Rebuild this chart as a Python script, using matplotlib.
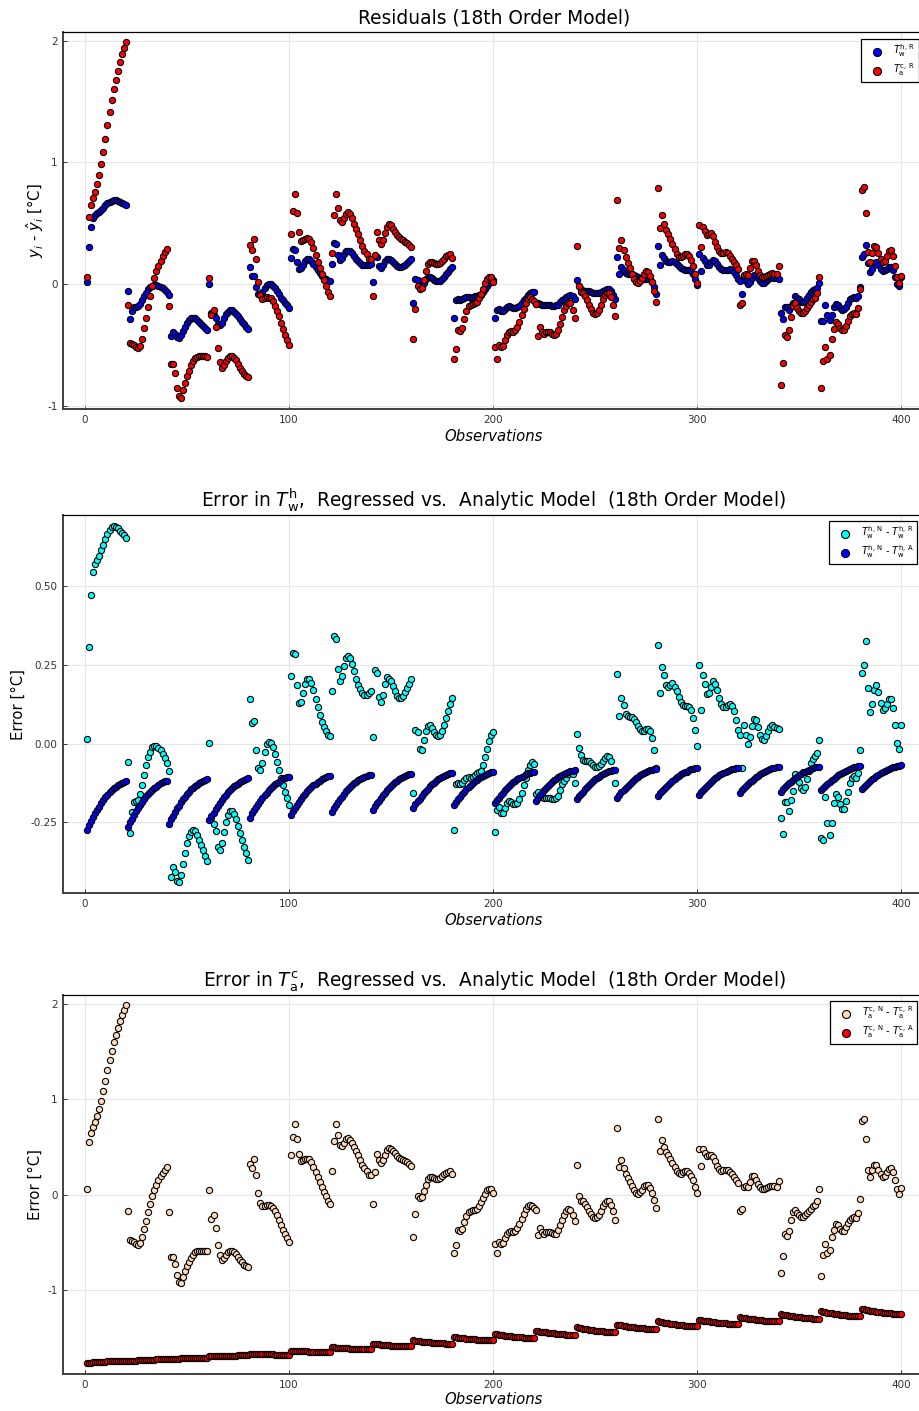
"""
Residuals and regression errors of the 18th order model, three stacked scatter panels.
"""
import matplotlib
matplotlib.use("Agg")
import matplotlib.pyplot as plt

plt.rcParams["font.family"] = ["DejaVu Sans"]
plt.rcParams["axes.unicode_minus"] = False
plt.rcParams["mathtext.fontset"] = "dejavusans"

obs = list(range(1, 401))

# T_w^h,N - T_w^h,R  (same values are the T_w^h residuals)
err_tw_r = [
    0.015, 0.306, 0.470, 0.545, 0.571, 0.582, 0.596, 0.613, 0.630, 0.649, 0.665, 0.678, 0.687, 0.690, 0.689, 0.685, 0.675, 0.668, 0.661, 0.651,
    -0.058, -0.284, -0.217, -0.186, -0.184, -0.179, -0.161, -0.132, -0.100, -0.069, -0.043, -0.026, -0.012, -0.007, -0.008, -0.014, -0.022, -0.033, -0.046, -0.061,
    -0.088, -0.423, -0.391, -0.409, -0.435, -0.439, -0.419, -0.384, -0.348, -0.317, -0.293, -0.280, -0.274, -0.278, -0.290, -0.306, -0.323, -0.339, -0.357, -0.374,
    0.003, -0.235, -0.255, -0.277, -0.328, -0.338, -0.315, -0.280, -0.248, -0.227, -0.214, -0.213, -0.225, -0.241, -0.262, -0.285, -0.306, -0.328, -0.349, -0.370,
    0.141, 0.064, 0.070, -0.019, -0.079, -0.085, -0.061, -0.028, -0.003, 0.004, 0.002, -0.011, -0.033, -0.058, -0.083, -0.109, -0.132, -0.154, -0.174, -0.195,
    0.214, 0.289, 0.284, 0.185, 0.129, 0.131, 0.160, 0.189, 0.204, 0.204, 0.191, 0.169, 0.142, 0.115, 0.091, 0.069, 0.053, 0.039, 0.028, 0.023,
    0.168, 0.342, 0.331, 0.237, 0.200, 0.214, 0.247, 0.271, 0.277, 0.271, 0.253, 0.229, 0.206, 0.187, 0.172, 0.160, 0.155, 0.155, 0.159, 0.166,
    0.020, 0.234, 0.224, 0.148, 0.131, 0.155, 0.188, 0.210, 0.206, 0.197, 0.184, 0.166, 0.152, 0.145, 0.145, 0.151, 0.162, 0.176, 0.189, 0.204,
    -0.156, 0.042, 0.037, -0.016, -0.019, 0.012, 0.041, 0.056, 0.058, 0.050, 0.037, 0.028, 0.024, 0.028, 0.041, 0.060, 0.082, 0.104, 0.127, 0.145,
    -0.275, -0.128, -0.125, -0.130, -0.125, -0.115, -0.108, -0.105, -0.110, -0.105, -0.100, -0.095, -0.090, -0.088, -0.067, -0.042, -0.016, 0.007, 0.028, 0.038,
    -0.281, -0.211, -0.200, -0.222, -0.222, -0.204, -0.189, -0.182, -0.186, -0.191, -0.193, -0.188, -0.175, -0.156, -0.132, -0.109, -0.085, -0.069, -0.060, -0.064,
    -0.161, -0.153, -0.165, -0.170, -0.172, -0.172, -0.174, -0.174, -0.176, -0.176, -0.172, -0.168, -0.148, -0.128, -0.118, -0.108, -0.098, -0.090, -0.098, -0.124,
    0.031, -0.015, -0.035, -0.053, -0.054, -0.056, -0.056, -0.061, -0.069, -0.074, -0.075, -0.072, -0.064, -0.056, -0.045, -0.040, -0.042, -0.054, -0.085, -0.124,
    0.220, 0.086, 0.145, 0.121, 0.094, 0.086, 0.085, 0.083, 0.079, 0.069, 0.056, 0.046, 0.041, 0.041, 0.045, 0.046, 0.039, 0.016, -0.021, -0.077,
    0.313, 0.160, 0.244, 0.217, 0.187, 0.180, 0.185, 0.192, 0.181, 0.168, 0.148, 0.132, 0.123, 0.119, 0.118, 0.115, 0.108, 0.081, 0.043, -0.008,
    0.248, 0.107, 0.216, 0.189, 0.157, 0.160, 0.181, 0.197, 0.189, 0.169, 0.145, 0.126, 0.116, 0.115, 0.121, 0.126, 0.120, 0.102, 0.074, 0.042,
    0.028, -0.077, 0.060, 0.028, -0.001, 0.020, 0.055, 0.079, 0.074, 0.053, 0.026, 0.013, 0.011, 0.024, 0.039, 0.054, 0.058, 0.054, 0.048, 0.046,
    -0.235, -0.288, -0.186, -0.185, -0.214, -0.180, -0.150, -0.096, -0.109, -0.122, -0.142, -0.149, -0.138, -0.114, -0.088, -0.061, -0.049, -0.040, -0.030, 0.011,
    -0.300, -0.305, -0.170, -0.251, -0.290, -0.251, -0.190, -0.161, -0.169, -0.192, -0.208, -0.207, -0.184, -0.153, -0.124, -0.109, -0.103, -0.109, -0.093, -0.019,
    0.224, 0.248, 0.326, 0.176, 0.100, 0.126, 0.171, 0.185, 0.162, 0.128, 0.107, 0.113, 0.126, 0.142, 0.142, 0.113, 0.058, 0.002, -0.017, 0.060,
]

# T_w^h,N - T_w^h,A
err_tw_a = [
    -0.274, -0.258, -0.246, -0.234, -0.221, -0.210, -0.200, -0.189, -0.179, -0.170, -0.162, -0.155, -0.148, -0.142, -0.138, -0.131, -0.127, -0.124, -0.121, -0.119,
    -0.265, -0.250, -0.239, -0.227, -0.215, -0.205, -0.195, -0.185, -0.176, -0.167, -0.160, -0.153, -0.147, -0.141, -0.137, -0.131, -0.126, -0.123, -0.120, -0.119,
    -0.254, -0.240, -0.229, -0.218, -0.206, -0.197, -0.187, -0.177, -0.169, -0.160, -0.153, -0.146, -0.141, -0.135, -0.131, -0.125, -0.121, -0.118, -0.115, -0.114,
    -0.244, -0.231, -0.220, -0.209, -0.199, -0.189, -0.180, -0.171, -0.163, -0.155, -0.148, -0.142, -0.136, -0.131, -0.127, -0.122, -0.118, -0.115, -0.112, -0.111,
    -0.235, -0.222, -0.212, -0.201, -0.191, -0.182, -0.173, -0.163, -0.156, -0.148, -0.141, -0.135, -0.130, -0.124, -0.121, -0.115, -0.111, -0.109, -0.106, -0.105,
    -0.227, -0.215, -0.205, -0.195, -0.185, -0.176, -0.167, -0.159, -0.151, -0.144, -0.138, -0.132, -0.127, -0.122, -0.118, -0.113, -0.109, -0.107, -0.104, -0.103,
    -0.217, -0.205, -0.196, -0.186, -0.177, -0.169, -0.160, -0.152, -0.145, -0.138, -0.132, -0.126, -0.121, -0.117, -0.113, -0.108, -0.105, -0.103, -0.100, -0.099,
    -0.210, -0.199, -0.190, -0.181, -0.172, -0.164, -0.156, -0.148, -0.141, -0.134, -0.129, -0.123, -0.118, -0.114, -0.111, -0.106, -0.103, -0.100, -0.098, -0.097,
    -0.204, -0.193, -0.184, -0.175, -0.166, -0.158, -0.151, -0.143, -0.136, -0.130, -0.124, -0.119, -0.114, -0.110, -0.106, -0.102, -0.099, -0.096, -0.094, -0.093,
    -0.196, -0.185, -0.177, -0.169, -0.160, -0.153, -0.146, -0.138, -0.132, -0.126, -0.120, -0.115, -0.111, -0.107, -0.104, -0.099, -0.096, -0.094, -0.092, -0.091,
    -0.190, -0.180, -0.172, -0.164, -0.156, -0.149, -0.142, -0.135, -0.129, -0.123, -0.118, -0.113, -0.109, -0.105, -0.102, -0.098, -0.095, -0.093, -0.091, -0.090,
    -0.182, -0.172, -0.165, -0.157, -0.149, -0.142, -0.135, -0.129, -0.123, -0.117, -0.112, -0.107, -0.103, -0.100, -0.097, -0.093, -0.090, -0.088, -0.086, -0.085,
    -0.177, -0.168, -0.160, -0.153, -0.145, -0.138, -0.132, -0.125, -0.120, -0.114, -0.109, -0.105, -0.101, -0.097, -0.094, -0.091, -0.088, -0.086, -0.084, -0.083,
    -0.172, -0.163, -0.155, -0.148, -0.141, -0.134, -0.128, -0.121, -0.116, -0.110, -0.106, -0.101, -0.097, -0.094, -0.091, -0.087, -0.085, -0.083, -0.081, -0.080,
    -0.167, -0.158, -0.151, -0.144, -0.137, -0.131, -0.124, -0.118, -0.113, -0.107, -0.103, -0.098, -0.095, -0.091, -0.089, -0.085, -0.082, -0.081, -0.079, -0.078,
    -0.164, -0.155, -0.148, -0.141, -0.134, -0.128, -0.122, -0.116, -0.111, -0.106, -0.101, -0.097, -0.094, -0.090, -0.087, -0.084, -0.081, -0.080, -0.078, -0.077,
    -0.157, -0.149, -0.142, -0.136, -0.129, -0.123, -0.118, -0.112, -0.107, -0.102, -0.098, -0.094, -0.091, -0.087, -0.085, -0.082, -0.079, -0.077, -0.076, -0.075,
    -0.153, -0.145, -0.139, -0.132, -0.126, -0.121, -0.115, -0.110, -0.105, -0.100, -0.096, -0.092, -0.089, -0.086, -0.083, -0.080, -0.078, -0.076, -0.075, -0.074,
    -0.149, -0.141, -0.135, -0.129, -0.122, -0.117, -0.112, -0.106, -0.101, -0.097, -0.093, -0.089, -0.086, -0.083, -0.080, -0.077, -0.075, -0.073, -0.072, -0.071,
    -0.145, -0.137, -0.131, -0.125, -0.119, -0.114, -0.109, -0.103, -0.099, -0.094, -0.090, -0.086, -0.083, -0.080, -0.078, -0.075, -0.073, -0.071, -0.070, -0.069,
]

# T_a^c,N - T_a^c,R  (same values are the T_a^c residuals)
err_ta_r = [
    0.060, 0.551, 0.649, 0.709, 0.761, 0.821, 0.895, 0.986, 1.088, 1.196, 1.305, 1.411, 1.509, 1.600, 1.681, 1.754, 1.825, 1.888, 1.944, 1.989,
    -0.168, -0.481, -0.491, -0.498, -0.519, -0.526, -0.509, -0.446, -0.361, -0.274, -0.186, -0.098, -0.018, 0.053, 0.105, 0.151, 0.193, 0.228, 0.263, 0.291,
    -0.182, -0.656, -0.656, -0.730, -0.849, -0.919, -0.933, -0.870, -0.807, -0.754, -0.709, -0.667, -0.632, -0.607, -0.596, -0.589, -0.589, -0.589, -0.589, -0.596,
    0.053, -0.256, -0.211, -0.351, -0.526, -0.639, -0.684, -0.667, -0.632, -0.604, -0.589, -0.589, -0.604, -0.625, -0.653, -0.684, -0.712, -0.737, -0.750, -0.765,
    0.326, 0.281, 0.375, 0.207, 0.018, -0.091, -0.123, -0.116, -0.105, -0.112, -0.116, -0.140, -0.175, -0.218, -0.263, -0.316, -0.368, -0.414, -0.456, -0.498,
    0.414, 0.604, 0.744, 0.586, 0.428, 0.358, 0.361, 0.375, 0.379, 0.372, 0.344, 0.295, 0.239, 0.182, 0.133, 0.081, 0.032, -0.018, -0.063, -0.098,
    0.253, 0.568, 0.744, 0.625, 0.526, 0.509, 0.540, 0.579, 0.593, 0.575, 0.540, 0.498, 0.456, 0.411, 0.361, 0.316, 0.277, 0.250, 0.210, 0.204,
    -0.098, 0.239, 0.428, 0.365, 0.330, 0.365, 0.421, 0.470, 0.491, 0.484, 0.456, 0.432, 0.407, 0.386, 0.372, 0.361, 0.351, 0.340, 0.326, 0.305,
    -0.446, -0.200, -0.014, -0.035, -0.028, 0.035, 0.105, 0.165, 0.182, 0.182, 0.175, 0.165, 0.168, 0.175, 0.193, 0.211, 0.228, 0.239, 0.246, 0.218,
    -0.618, -0.530, -0.375, -0.386, -0.358, -0.288, -0.221, -0.182, -0.168, -0.165, -0.158, -0.147, -0.116, -0.077, -0.035, 0.007, 0.046, 0.063, 0.060, 0.021,
    -0.516, -0.618, -0.498, -0.516, -0.509, -0.456, -0.414, -0.393, -0.386, -0.389, -0.379, -0.351, -0.309, -0.253, -0.200, -0.151, -0.119, -0.105, -0.120, -0.140,
    -0.165, -0.428, -0.351, -0.396, -0.411, -0.393, -0.393, -0.396, -0.407, -0.414, -0.410, -0.375, -0.323, -0.270, -0.211, -0.175, -0.154, -0.158, -0.211, -0.281,
    0.312, -0.011, -0.063, -0.070, -0.098, -0.130, -0.168, -0.204, -0.235, -0.246, -0.239, -0.211, -0.168, -0.123, -0.088, -0.070, -0.070, -0.105, -0.168, -0.263,
    0.695, 0.295, 0.361, 0.281, 0.221, 0.175, 0.130, 0.088, 0.046, 0.018, 0.011, 0.025, 0.053, 0.088, 0.105, 0.098, 0.070, 0.018, -0.053, -0.144,
    0.793, 0.463, 0.572, 0.498, 0.449, 0.411, 0.375, 0.333, 0.288, 0.246, 0.225, 0.221, 0.235, 0.246, 0.246, 0.228, 0.200, 0.151, 0.081, 0.014,
    0.484, 0.305, 0.474, 0.439, 0.404, 0.411, 0.421, 0.393, 0.351, 0.305, 0.270, 0.253, 0.256, 0.263, 0.256, 0.235, 0.211, 0.182, 0.154, 0.126,
    -0.168, -0.151, 0.077, 0.088, 0.077, 0.133, 0.193, 0.193, 0.158, 0.112, 0.077, 0.060, 0.060, 0.070, 0.077, 0.088, 0.091, 0.088, 0.081, 0.147,
    -0.825, -0.649, -0.414, -0.432, -0.379, -0.270, -0.182, -0.158, -0.193, -0.218, -0.239, -0.239, -0.218, -0.193, -0.168, -0.147, -0.123, -0.112, -0.070, 0.060,
    -0.853, -0.632, -0.516, -0.614, -0.579, -0.449, -0.368, -0.309, -0.323, -0.358, -0.379, -0.379, -0.340, -0.298, -0.263, -0.246, -0.239, -0.246, -0.193, -0.042,
    0.772, 0.796, 0.589, 0.263, 0.182, 0.256, 0.316, 0.309, 0.256, 0.211, 0.186, 0.193, 0.235, 0.274, 0.281, 0.235, 0.151, 0.063, 0.007, 0.070,
]

# T_a^c,N - T_a^c,A
err_ta_a = [
    -1.772, -1.769, -1.767, -1.765, -1.763, -1.762, -1.760, -1.758, -1.757, -1.755, -1.754, -1.753, -1.752, -1.751, -1.750, -1.749, -1.748, -1.748, -1.747, -1.747,
    -1.754, -1.752, -1.750, -1.748, -1.746, -1.744, -1.742, -1.741, -1.739, -1.738, -1.737, -1.736, -1.735, -1.734, -1.733, -1.732, -1.731, -1.731, -1.730, -1.730,
    -1.730, -1.729, -1.727, -1.726, -1.725, -1.724, -1.723, -1.722, -1.721, -1.721, -1.720, -1.719, -1.719, -1.718, -1.718, -1.717, -1.717, -1.716, -1.716, -1.716,
    -1.702, -1.701, -1.700, -1.699, -1.698, -1.697, -1.696, -1.695, -1.695, -1.694, -1.693, -1.693, -1.692, -1.692, -1.691, -1.691, -1.691, -1.690, -1.690, -1.690,
    -1.672, -1.673, -1.674, -1.675, -1.676, -1.677, -1.678, -1.679, -1.679, -1.680, -1.681, -1.681, -1.682, -1.682, -1.683, -1.683, -1.683, -1.684, -1.684, -1.684,
    -1.639, -1.641, -1.642, -1.643, -1.645, -1.646, -1.647, -1.648, -1.649, -1.650, -1.651, -1.652, -1.653, -1.653, -1.654, -1.655, -1.655, -1.655, -1.656, -1.656,
    -1.604, -1.606, -1.608, -1.609, -1.611, -1.613, -1.614, -1.616, -1.617, -1.618, -1.619, -1.620, -1.621, -1.622, -1.622, -1.623, -1.624, -1.624, -1.625, -1.625,
    -1.568, -1.571, -1.573, -1.575, -1.578, -1.579, -1.581, -1.583, -1.585, -1.587, -1.588, -1.590, -1.591, -1.592, -1.593, -1.594, -1.595, -1.595, -1.596, -1.596,
    -1.533, -1.537, -1.539, -1.542, -1.545, -1.547, -1.550, -1.552, -1.554, -1.556, -1.558, -1.560, -1.561, -1.563, -1.564, -1.565, -1.566, -1.567, -1.568, -1.568,
    -1.498, -1.502, -1.504, -1.507, -1.510, -1.512, -1.515, -1.517, -1.519, -1.521, -1.523, -1.525, -1.526, -1.528, -1.529, -1.530, -1.531, -1.532, -1.533, -1.533,
    -1.463, -1.468, -1.471, -1.475, -1.479, -1.482, -1.485, -1.488, -1.491, -1.494, -1.496, -1.498, -1.500, -1.502, -1.503, -1.505, -1.507, -1.508, -1.509, -1.509,
    -1.432, -1.436, -1.440, -1.443, -1.446, -1.449, -1.452, -1.455, -1.458, -1.460, -1.462, -1.464, -1.466, -1.468, -1.469, -1.471, -1.472, -1.473, -1.474, -1.474,
    -1.397, -1.402, -1.406, -1.410, -1.414, -1.417, -1.421, -1.424, -1.427, -1.430, -1.432, -1.435, -1.437, -1.439, -1.440, -1.442, -1.444, -1.445, -1.446, -1.446,
    -1.368, -1.373, -1.376, -1.380, -1.384, -1.387, -1.390, -1.393, -1.396, -1.399, -1.401, -1.403, -1.405, -1.407, -1.408, -1.410, -1.412, -1.413, -1.414, -1.414,
    -1.333, -1.338, -1.343, -1.347, -1.351, -1.355, -1.358, -1.362, -1.365, -1.369, -1.371, -1.374, -1.376, -1.378, -1.380, -1.382, -1.383, -1.384, -1.385, -1.386,
    -1.316, -1.321, -1.324, -1.328, -1.331, -1.334, -1.338, -1.341, -1.343, -1.346, -1.348, -1.351, -1.352, -1.354, -1.356, -1.357, -1.359, -1.360, -1.361, -1.361,
    -1.288, -1.293, -1.296, -1.300, -1.303, -1.306, -1.310, -1.313, -1.315, -1.318, -1.320, -1.323, -1.324, -1.326, -1.328, -1.329, -1.331, -1.332, -1.333, -1.333,
    -1.256, -1.261, -1.265, -1.269, -1.273, -1.276, -1.280, -1.283, -1.286, -1.289, -1.291, -1.294, -1.296, -1.298, -1.299, -1.301, -1.303, -1.304, -1.305, -1.305,
    -1.228, -1.233, -1.238, -1.242, -1.246, -1.250, -1.253, -1.257, -1.260, -1.264, -1.266, -1.269, -1.271, -1.273, -1.275, -1.277, -1.278, -1.279, -1.280, -1.281,
    -1.203, -1.208, -1.213, -1.217, -1.221, -1.225, -1.228, -1.232, -1.235, -1.239, -1.241, -1.244, -1.246, -1.248, -1.250, -1.252, -1.253, -1.254, -1.255, -1.256,
]

x_ticks = [0, 100, 200, 300, 400]
top_yticks = [-1, 0, 1, 2]
top_yticklabels = ["-1", "0", "1", "2"]
mid_yticks = [-0.25, 0.0, 0.25, 0.50]
mid_yticklabels = ["-0.25", "0.00", "0.25", "0.50"]
bot_yticks = [-1, 0, 1, 2]
bot_yticklabels = ["-1", "0", "1", "2"]

W, H = 919, 1411
MARKER_S = 20
TITLE_SIZE = 13.4
LABEL_SIZE = 10.7


def px_axes(fig, top, bottom, left=63, right=925):
    return fig.add_axes([left / W, (H - bottom) / H, (right - left) / W, (bottom - top) / H])


def style_axes(ax, ylim, yticks, yticklabels, ylabel, ylabel_x, xlabel_y):
    ax.set_xlim(-10.8, 411.8)
    ax.set_ylim(*ylim)
    ax.set_xticks(x_ticks)
    ax.set_yticks(yticks)
    ax.set_yticklabels(yticklabels)
    ax.grid(True, color="#e6e6e6", linewidth=0.8)
    ax.set_axisbelow(True)
    ax.tick_params(direction="in", length=3, width=0.7, labelsize=7.5, pad=4, colors="#333333")
    ax.spines["top"].set_linewidth(0.9)
    ax.spines["top"].set_color("black")
    for side in ("left", "bottom"):
        ax.spines[side].set_linewidth(1.4)
        ax.spines[side].set_color("#404040")
    ax.set_xlabel("Observations", fontsize=LABEL_SIZE, style="italic")
    ax.xaxis.set_label_coords(0.5, xlabel_y)
    ax.xaxis.label.set_va("center")
    ax.set_ylabel(ylabel, fontsize=LABEL_SIZE)
    ax.yaxis.set_label_coords(ylabel_x, 0.5)
    ax.yaxis.label.set_va("center")


def add_legend(ax, fig, left_px, top_px):
    leg = ax.legend(loc="upper left", bbox_to_anchor=(left_px / W, (H - top_px) / H),
                    bbox_transform=fig.transFigure, fontsize=7, frameon=True,
                    fancybox=False, framealpha=1, edgecolor="black",
                    handletextpad=0.45, borderpad=0.35, labelspacing=0.25,
                    handlelength=2.5, markerscale=1.3, borderaxespad=0)
    leg.get_frame().set_linewidth(0.9)


def main():
    fig = plt.figure(figsize=(W / 100, H / 100), dpi=100)

    # residuals
    ax1 = px_axes(fig, 31.7, 409.3)
    ax1.scatter(obs, err_tw_r, s=MARKER_S, c="#0000ff", edgecolors="black", linewidths=0.8,
                label=r"$T_\mathrm{w}^\mathrm{h,\,R}$", zorder=3)
    ax1.scatter(obs, err_ta_r, s=MARKER_S, c="#ff0000", edgecolors="black", linewidths=0.8,
                label=r"$T_\mathrm{a}^\mathrm{c,\,R}$", zorder=3)
    style_axes(ax1, (-1.027, 2.074), top_yticks, top_yticklabels,
               r"$y_i$ - $\hat{y}_i$ [°C]", -0.0325, -0.073)
    ax1.set_title("Residuals (18th Order Model)", fontsize=TITLE_SIZE, pad=6)
    add_legend(ax1, fig, 861, 39)

    # water side error
    ax2 = px_axes(fig, 515, 893.3)
    ax2.scatter(obs, err_tw_r, s=MARKER_S, c="#00ffff", edgecolors="black", linewidths=0.8,
                label=r"$T_\mathrm{w}^\mathrm{h,\,N}$ - $T_\mathrm{w}^\mathrm{h,\,R}$", zorder=3)
    ax2.scatter(obs, err_tw_a, s=MARKER_S, c="#0000ff", edgecolors="black", linewidths=0.8,
                label=r"$T_\mathrm{w}^\mathrm{h,\,N}$ - $T_\mathrm{w}^\mathrm{h,\,A}$", zorder=3)
    style_axes(ax2, (-0.4756, 0.7256), mid_yticks, mid_yticklabels,
               "Error [°C]", -0.052, -0.0706)
    ax2.set_title(r"Error in $T_\mathrm{w}^\mathrm{h}$,  Regressed vs.  Analytic Model  (18th Order Model)",
                  fontsize=TITLE_SIZE, pad=6)
    add_legend(ax2, fig, 829, 521)

    # air side error
    ax3 = px_axes(fig, 994.5, 1374)
    ax3.scatter(obs, err_ta_r, s=MARKER_S, c="#ffdab9", edgecolors="black", linewidths=0.8,
                label=r"$T_\mathrm{a}^\mathrm{c,\,N}$ - $T_\mathrm{a}^\mathrm{c,\,R}$", zorder=3)
    ax3.scatter(obs, err_ta_a, s=MARKER_S, c="#ff0000", edgecolors="black", linewidths=0.8,
                label=r"$T_\mathrm{a}^\mathrm{c,\,N}$ - $T_\mathrm{a}^\mathrm{c,\,A}$", zorder=3)
    style_axes(ax3, (-1.886, 2.103), bot_yticks, bot_yticklabels,
               "Error [°C]", -0.0325, -0.0685)
    ax3.set_title(r"Error in $T_\mathrm{a}^\mathrm{c}$,  Regressed vs.  Analytic Model  (18th Order Model)",
                  fontsize=TITLE_SIZE, pad=6)
    add_legend(ax3, fig, 830, 1001)

    fig.savefig("out.png", dpi=100)
    plt.close(fig)
    print(" Saved: out.png")


if __name__ == "__main__":
    main()
